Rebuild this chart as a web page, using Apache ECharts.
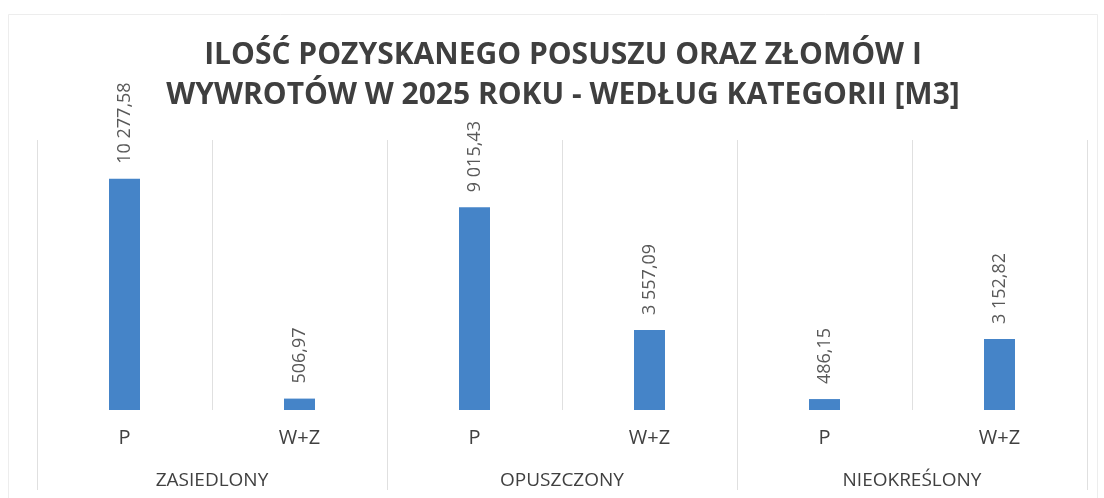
<!DOCTYPE html>
<html>
<head>
<meta charset="utf-8">
<script src="https://cdn.jsdelivr.net/npm/echarts@6/dist/echarts.min.js"></script>
<style>
  html, body { margin: 0; padding: 0; background: #fff; }
  #chart { width: 1104px; height: 498px; }
</style>
</head>
<body>
<div id="chart"></div>
<script>
const groups = ['ZASIEDLONY', 'OPUSZCZONY', 'NIEOKREŚLONY']
const subLabels = ['P', 'W+Z', 'P', 'W+Z', 'P', 'W+Z']
const values = [10277.58, 506.97, 9015.43, 3557.09, 486.15, 3152.82]

// format like "10 277,58"
function plNumber(v) {
  const parts = v.toFixed(2).split('.')
  const intPart = parts[0].replace(/\B(?=(\d{3})+(?!\d))/g, ' ')
  return intPart + ',' + parts[1]
}

const lineColor = '#e0e0e0'
const font = '"Open Sans", "Noto Sans", sans-serif'

let myChart = echarts.init(document.getElementById('chart'))
myChart.setOption({
  backgroundColor: '#fff',
  animation: false,
  title: {
    text: 'ILOŚĆ POZYSKANEGO POSUSZU ORAZ ZŁOMÓW I\nWYWROTÓW W 2025 ROKU - WEDŁUG KATEGORII [M3]',
    left: 558,
    textAlign: 'center',
    top: 30,
    textStyle: {
      fontFamily: font,
      fontWeight: 'bold',
      fontSize: 30,
      lineHeight: 40,
      color: '#3f3f3f'
    }
  },
  graphic: [{
    type: 'rect',
    shape: { x: 8.5, y: 14.5, width: 1089, height: 500 },
    style: { fill: 'none', stroke: '#ededed', lineWidth: 1 },
    silent: true
  }],
  grid: {
    left: 37,
    right: 17,
    top: 140,
    bottom: 88
  },
  xAxis: [
    {
      type: 'category',
      data: subLabels,
      position: 'bottom',
      axisLine: { show: false },
      axisTick: { show: false },
      splitLine: {
        show: true,
        interval: 0,
        lineStyle: { color: lineColor, width: 1 }
      },
      axisLabel: {
        interval: 0,
        margin: 18,
        fontFamily: font,
        fontSize: 20,
        color: '#404040'
      }
    },
    {
      type: 'category',
      data: groups,
      position: 'bottom',
      axisLine: { show: false },
      axisTick: {
        show: true,
        interval: 0,
        length: 80,
        lineStyle: { color: lineColor, width: 1 }
      },
      splitLine: { show: false },
      axisLabel: {
        interval: 0,
        margin: 61,
        fontFamily: font,
        fontSize: 19,
        color: '#404040'
      }
    }
  ],
  yAxis: {
    type: 'value',
    min: 0,
    max: 12000,
    show: false,
    splitLine: { show: false }
  },
  series: [{
    type: 'bar',
    xAxisIndex: 0,
    data: values,
    barWidth: 31,
    itemStyle: { color: '#4584c8' },
    label: {
      show: true,
      position: 'top',
      rotate: 90,
      align: 'left',
      verticalAlign: 'middle',
      distance: 15,
      fontFamily: font,
      fontSize: 18,
      color: '#595959',
      formatter: (p) => plNumber(p.value)
    }
  }]
})
</script>
</body>
</html>
